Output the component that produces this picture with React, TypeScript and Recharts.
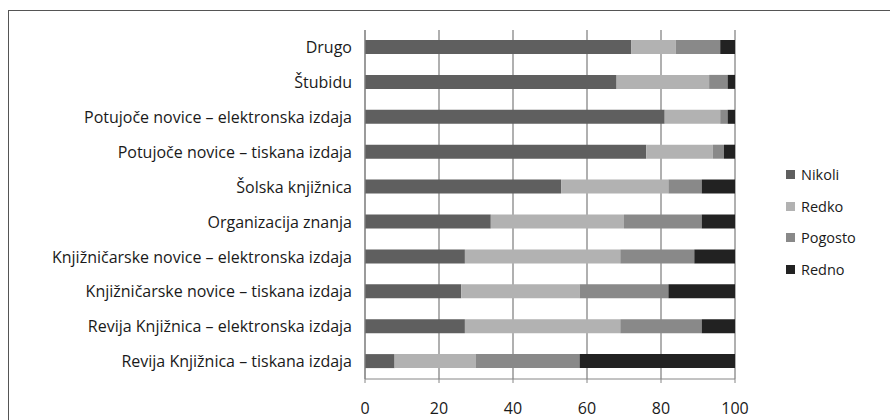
import React from 'react';
import { BarChart, Bar, XAxis, YAxis, CartesianGrid, Legend } from 'recharts';

const categories = [
  'Drugo',
  'Štubidu',
  'Potujoče novice – elektronska izdaja',
  'Potujoče novice – tiskana izdaja',
  'Šolska knjižnica',
  'Organizacija znanja',
  'Knjižničarske novice – elektronska izdaja',
  'Knjižničarske novice – tiskana izdaja',
  'Revija Knjižnica – elektronska izdaja',
  'Revija Knjižnica – tiskana izdaja',
];

const seriesNames = ['Nikoli', 'Redko', 'Pogosto', 'Redno'];
const nikoli = [72, 68, 81, 76, 53, 34, 27, 26, 27, 8];
const redko = [12, 25, 15, 18, 29, 36, 42, 32, 42, 22];
const pogosto = [12, 5, 2, 3, 9, 21, 20, 24, 22, 28];
const redno = [4, 2, 2, 3, 9, 9, 11, 18, 9, 42];

const xTicks = [0, 20, 40, 60, 80, 100];
const boundaryTicks = [0, 1, 2, 3, 4, 5, 6, 7, 8, 9, 10];

const data = categories.map((name, i) => ({
  name,
  Nikoli: nikoli[i],
  Redko: redko[i],
  Pogosto: pogosto[i],
  Redno: redno[i],
}));

const FONT = '"Open Sans", "Noto Sans", sans-serif';
const AXIS = '#868686';

// keep the legend in series order (recharts sorts by name otherwise)
const renderLegend = (props: any) => {
  const items = [...props.payload].sort(
    (a: any, b: any) => seriesNames.indexOf(a.value) - seriesNames.indexOf(b.value)
  );
  return (
    <div style={{ fontFamily: FONT, fontSize: 14.5, color: '#1a1a1a' }}>
      {items.map((entry: any) => (
        <div
          key={entry.value}
          style={{ height: 31.6, display: 'flex', alignItems: 'center' }}
        >
          <span
            style={{
              display: 'inline-block',
              width: 9,
              height: 9,
              background: entry.color,
              marginRight: 6,
            }}
          />
          <span>{entry.value}</span>
        </div>
      ))}
    </div>
  );
};

const App: React.FC = () => {
  return (
    <div style={{ position: 'relative', width: 890, height: 420, overflow: 'hidden', background: '#fff' }}>
      <style>{'body{margin:0}'}</style>
      <div
        style={{
          position: 'absolute',
          left: 8,
          top: 10,
          width: 900,
          height: 430,
          border: '1px solid #555',
        }}
      />
      <div style={{ position: 'absolute', left: 0, top: 0 }}>
        <BarChart
          width={890}
          height={420}
          data={data}
          layout="vertical"
          barSize={14}
          margin={{ top: 30, right: 55, bottom: 0, left: 0 }}
        >
          <CartesianGrid horizontal={false} stroke={AXIS} strokeWidth={1.3} />
          <XAxis
            type="number"
            domain={[0, 100]}
            ticks={xTicks}
            interval={0}
            height={41}
            tickSize={4}
            tickMargin={20}
            stroke={AXIS}
            tick={{ fill: '#1a1a1a', fontSize: 16, fontFamily: FONT }}
          />
          <YAxis
            type="category"
            dataKey="name"
            width={365}
            tickLine={false}
            tickMargin={7}
            stroke={AXIS}
            interval={0}
            tick={{ fill: '#1a1a1a', fontSize: 16, fontFamily: FONT }}
          />
          <YAxis
            yAxisId="bounds"
            type="number"
            domain={[0, 10]}
            ticks={boundaryTicks}
            interval={0}
            width={0}
            tickSize={5}
            axisLine={false}
            stroke={AXIS}
            tick={false}
          />
          <Legend
            layout="vertical"
            align="right"
            verticalAlign="top"
            width={100}
            content={renderLegend}
            wrapperStyle={{ left: 786, right: 'auto', top: 159 }}
          />
          <Bar dataKey="Nikoli" stackId="a" fill="#5f5f5f" isAnimationActive={false} />
          <Bar dataKey="Redko" stackId="a" fill="#b2b2b2" isAnimationActive={false} />
          <Bar dataKey="Pogosto" stackId="a" fill="#898989" isAnimationActive={false} />
          <Bar dataKey="Redno" stackId="a" fill="#222222" isAnimationActive={false} />
        </BarChart>
      </div>
    </div>
  );
};

export default App;
